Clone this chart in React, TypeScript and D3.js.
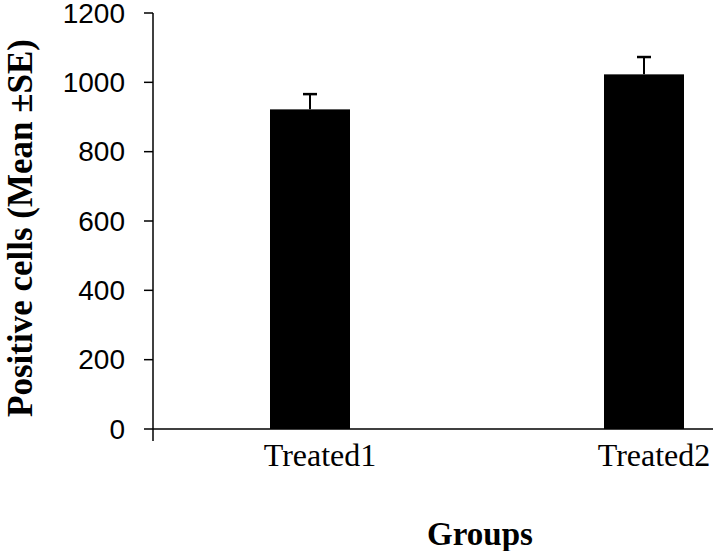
import React from "react";
import * as d3 from "d3";

const categories = ["Treated1", "Treated2"];
const means = [922, 1023];
const errors = [44, 50];
const yTicks = [0, 200, 400, 600, 800, 1000, 1200];

const W = 713;
const H = 551;

export default function App() {
  const axisX = 153;
  const y = d3.scaleLinear().domain([0, 1200]).range([429, 13]);
  const x = d3.scaleBand().domain(categories).range([axisX, axisX + 668]);
  const barW = 80;
  const barShift = -10;
  const capW = 14;

  return (
    <svg
      width={W}
      height={H}
      style={{ position: "absolute", left: 0, top: 0, background: "#fff" }}
    >
      {/* bars */}
      {categories.map((c, i) => {
        const cx = (x(c) as number) + x.bandwidth() / 2 + barShift;
        return (
          <g key={c}>
            <rect
              x={cx - barW / 2}
              y={y(means[i])}
              width={barW}
              height={y(0) - y(means[i])}
              fill="#000"
            />
            <line
              x1={cx}
              x2={cx}
              y1={y(means[i])}
              y2={y(means[i] + errors[i])}
              stroke="#000"
              strokeWidth={2}
            />
            <line
              x1={cx - capW / 2}
              x2={cx + capW / 2}
              y1={y(means[i] + errors[i])}
              y2={y(means[i] + errors[i])}
              stroke="#000"
              strokeWidth={2.5}
            />
          </g>
        );
      })}
      {/* y axis */}
      <line x1={axisX} x2={axisX} y1={y(1200)} y2={y(0) + 12} stroke="#000" strokeWidth={1.5} />
      {yTicks.map((t) => (
        <g key={t}>
          <line x1={axisX - 9} x2={axisX} y1={y(t)} y2={y(t)} stroke="#000" strokeWidth={1.5} />
          <text
            x={125}
            y={y(t)}
            textAnchor="end"
            dominantBaseline="central"
            fontFamily="'Liberation Sans', Arial, sans-serif"
            fontSize={28}
            fill="#000"
          >
            {t}
          </text>
        </g>
      ))}
      {/* x axis */}
      <line x1={axisX} x2={W} y1={y(0)} y2={y(0)} stroke="#000" strokeWidth={1.5} />
      {categories.map((c) => (
        <text
          key={c}
          x={(x(c) as number) + x.bandwidth() / 2}
          y={466}
          textAnchor="middle"
          fontFamily="'Liberation Serif', 'Times New Roman', serif"
          fontSize={32}
          fill="#000"
        >
          {c}
        </text>
      ))}
      <text
        x={480}
        y={545}
        textAnchor="middle"
        fontFamily="'Liberation Serif', 'Times New Roman', serif"
        fontWeight="bold"
        fontSize={33}
        fill="#000"
      >
        Groups
      </text>
      <text
        transform="translate(32,228) rotate(-90)"
        textAnchor="middle"
        fontFamily="'Liberation Serif', 'Times New Roman', serif"
        fontWeight="bold"
        fontSize={35}
        fill="#000"
      >
        Positive cells (Mean ±SE)
      </text>
    </svg>
  );
}
